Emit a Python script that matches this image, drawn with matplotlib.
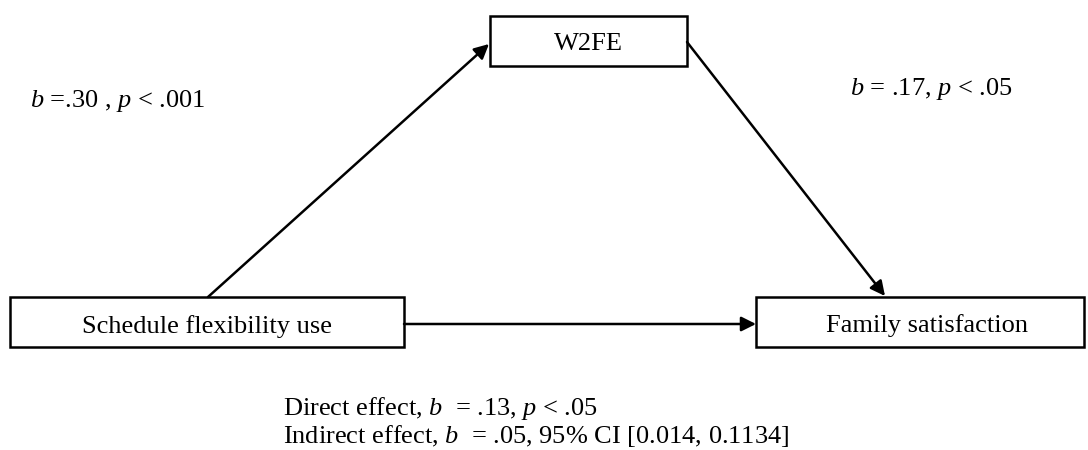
import matplotlib.pyplot as plt
from matplotlib.patches import Rectangle

plt.rcParams['font.family'] = ['Liberation Serif', 'DejaVu Serif']
plt.rcParams['mathtext.fontset'] = 'custom'
plt.rcParams['mathtext.rm'] = 'Liberation Serif'
plt.rcParams['mathtext.it'] = 'Liberation Serif:italic'

# Node labels of the mediation model
predictor = 'Schedule flexibility use'
mediator = 'W2FE'
outcome = 'Family satisfaction'

# Path coefficients
path_a = r'$b$ =.30 , $p$ < .001'
path_b = r'$b$ = .17, $p$ < .05'
effects = [r'Direct effect, $b$  = .13, $p$ < .05',
           r'Indirect effect, $b$  = .05, 95% CI [0.014, 0.1134]']

fig = plt.figure(figsize=(10.88, 4.5), dpi=100)
ax = fig.add_axes([0, 0, 1, 1])
ax.set_xlim(0, 1088)
ax.set_ylim(450, 0)
ax.axis('off')

fs = 19
lw = 1.8

# boxes: (x0, y0, x1, y1), text x, text baseline
boxes = [
    ((10, 297, 404, 347), 207, 333, predictor),
    ((490, 16, 687, 66), 588, 50, mediator),
    ((756, 297, 1084, 347), 927, 332, outcome),
]
for (x0, y0, x1, y1), tx, ty, label in boxes:
    ax.add_patch(Rectangle((x0, y0), x1 - x0, y1 - y0, fill=False,
                           edgecolor='black', lw=lw))
    ax.text(tx, ty, label, ha='center', va='baseline', fontsize=fs)

# arrows
arrow_kw = dict(arrowstyle='-|>', color='black', lw=lw, mutation_scale=22,
                shrinkA=0, shrinkB=0)
ax.annotate('', xy=(489, 44), xytext=(208, 297), arrowprops=arrow_kw)
ax.annotate('', xy=(885, 296), xytext=(687, 42), arrowprops=arrow_kw)
ax.annotate('', xy=(756, 324), xytext=(404, 324), arrowprops=arrow_kw)

# coefficient labels
ax.text(30, 107, path_a, ha='left', va='baseline', fontsize=fs)
ax.text(850, 95, path_b, ha='left', va='baseline', fontsize=fs)
for i, line in enumerate(effects):
    ax.text(283, 415 + 28 * i, line, ha='left', va='baseline', fontsize=fs)

fig.savefig('out.png', dpi=100)
